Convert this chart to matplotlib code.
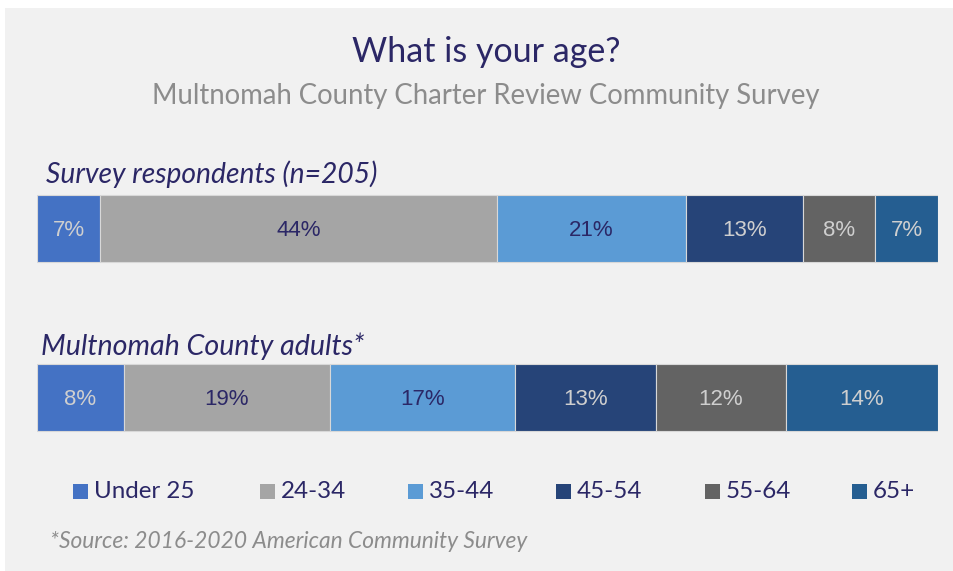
import matplotlib

matplotlib.use("Agg")
import matplotlib.pyplot as plt
from matplotlib.patches import Rectangle

# Age distribution, survey vs county (county row is scaled to fill the bar)
AGE_GROUPS = ["Under 25", "24-34", "35-44", "45-54", "55-64", "65+"]
SURVEY_PCT = [7, 44, 21, 13, 8, 7]
COUNTY_PCT = [8, 19, 17, 13, 12, 14]
ROW_LABELS = ["Survey respondents (n=205)", "Multnomah County adults*"]

COLORS = ["#4472C4", "#A5A5A5", "#5B9BD5", "#264478", "#636363", "#255E91"]
DARK_TEXT = [False, True, True, False, False, False]
NAVY = "#2b2766"
LIGHT = "#cfcfcf"
BG = "#f1f1f1"

W, H = 954, 571
fig = plt.figure(figsize=(W / 100, H / 100), dpi=100)
fig.patch.set_facecolor("white")
fig.patches.append(Rectangle((5 / W, 0), 948 / W, 1 - 8 / H, transform=fig.transFigure,
                             facecolor=BG, edgecolor="none", zorder=-10))


def fx(px):
    return px / W


def fy(py):
    return 1 - py / H


fig.text(fx(486), fy(52), "What is your age?", ha="center", va="center",
         fontsize=24.5, color=NAVY, family="Lato")
fig.text(fx(486), fy(96), "Multnomah County Charter Review Community Survey", ha="center",
         va="center", fontsize=19.8, color="#8c8c8c", family="Lato")

# bars live in an axes measured in pixel rows
ax = fig.add_axes([fx(37), fy(440), fx(938) - fx(37), (440 - 180) / H])
ax.set_xlim(0, 1)
ax.set_ylim(440, 180)
ax.axis("off")

rows = [(SURVEY_PCT, 228.5), (COUNTY_PCT, 397.5)]
for values, yc in rows:
    total = sum(values)
    left = 0.0
    for v, c, dark in zip(values, COLORS, DARK_TEXT):
        w = v / total
        ax.barh(yc, w, left=left, height=67, color=c, edgecolor="#d8d8d8", linewidth=0.8)
        ax.text(left + w / 2, yc + 2, f"{v}%", ha="center", va="center", fontsize=16,
                color=NAVY if dark else LIGHT, family="Liberation Sans")
        left += w

fig.text(fx(46), fy(174), ROW_LABELS[0], ha="left", va="center", fontsize=20.3,
         color=NAVY, style="italic", family="Lato")
fig.text(fx(41), fy(346), ROW_LABELS[1], ha="left", va="center", fontsize=20.6,
         color=NAVY, style="italic", family="Lato")

# legend, laid out by hand across the bottom
legend_x = [73, 260, 408, 556, 705, 852]
for x, name, c in zip(legend_x, AGE_GROUPS, COLORS):
    fig.patches.append(Rectangle((fx(x), fy(499)), 15 / W, 15 / H, transform=fig.transFigure,
                                 facecolor=c, edgecolor="none"))
    fig.text(fx(x + 21), fy(492), name, ha="left", va="center", fontsize=17.4,
             color=NAVY, family="Lato")

fig.text(fx(50), fy(542), "*Source: 2016-2020 American Community Survey", ha="left",
         va="center", fontsize=16.4, color="#8c8c8c", style="italic", family="Lato")

fig.savefig("out.png", dpi=100, facecolor="white")
